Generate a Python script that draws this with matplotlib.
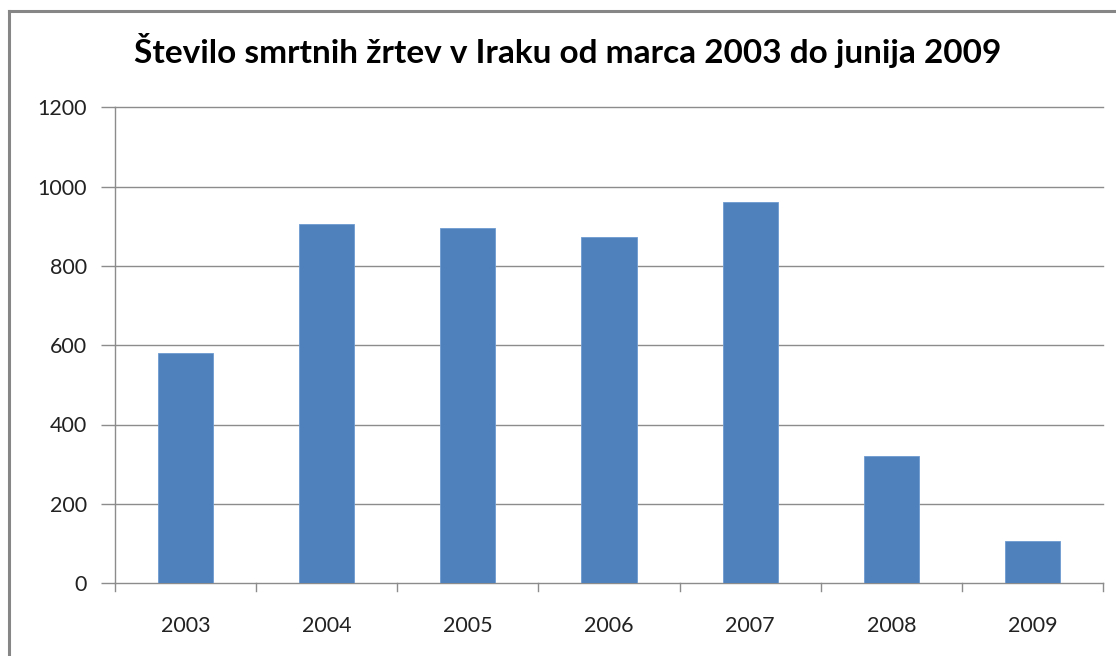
import matplotlib
matplotlib.use("Agg")
import matplotlib.pyplot as plt
from matplotlib.lines import Line2D

years = ["2003", "2004", "2005", "2006", "2007", "2008", "2009"]
deaths = [580, 906, 897, 872, 961, 320, 105]
y_ticks = [0, 200, 400, 600, 800, 1000, 1200]
title = "Število smrtnih žrtev v Iraku od marca 2003 do junija 2009"

plt.rcParams['font.family'] = ['Lato', 'DejaVu Sans']

W, H = 1116, 656
fig = plt.figure(figsize=(W / 100, H / 100), dpi=100)
fig.patch.set_facecolor("white")

# outer chart border (left, top)
fig.add_artist(Line2D([9 / W, 9 / W], [0, 1 - 11 / H], transform=fig.transFigure,
                      color="#868686", lw=2.2))
fig.add_artist(Line2D([9 / W, 1], [1 - 11 / H, 1 - 11 / H], transform=fig.transFigure,
                      color="#868686", lw=2.2))

left, right, bottom, top = 115 / W, 1103 / W, 1 - 583 / H, 1 - 107.5 / H
ax = fig.add_axes([left, bottom, right - left, top - bottom])

x = list(range(len(years)))
ax.bar(x, deaths, width=0.39, color="#4F81BD", edgecolor="#6F9BD0", linewidth=0.6, zorder=3)

ax.set_xlim(-0.5, len(years) - 0.5)
ax.set_ylim(0, 1200)
ax.set_yticks(y_ticks)
ax.set_yticklabels([str(v) for v in y_ticks], fontsize=15.5, color="#222222")
ax.set_xticks(x)
ax.set_xticklabels(years, fontsize=15.5, color="#222222")

for v in y_ticks[1:]:
    ax.axhline(v, color="#8C8C8C", lw=1.0, zorder=1, clip_on=False)

for s in ["top", "right"]:
    ax.spines[s].set_visible(False)
for s in ["left", "bottom"]:
    ax.spines[s].set_color("#8C8C8C")
    ax.spines[s].set_linewidth(1.0)

ax.tick_params(axis="y", length=10, width=1.0, color="#8C8C8C", pad=10)
ax.tick_params(axis="x", length=0, pad=24)
# x category boundary ticks
for b in range(len(years) + 1):
    ax.plot([b - 0.5, b - 0.5], [0, -20], color="#8C8C8C", lw=1.0, clip_on=False, zorder=2)

fig.text(0.509, 1 - 50 / H, title, ha="center", va="center",
         fontsize=24, fontweight="bold", color="#000000")

fig.savefig("out.png", dpi=100, facecolor="white")
